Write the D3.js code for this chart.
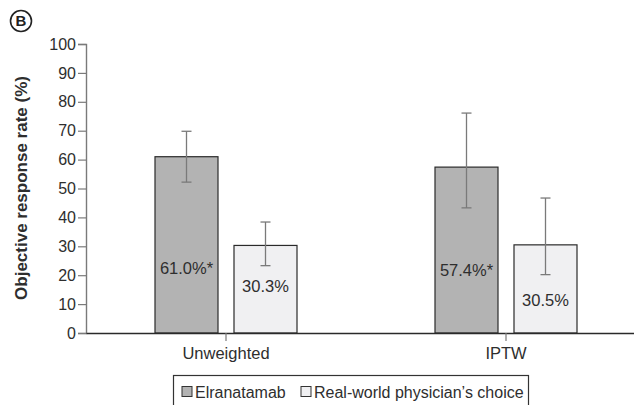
<!DOCTYPE html>
<html>
<head>
<meta charset="utf-8">
<script src="https://cdn.jsdelivr.net/npm/d3@7"></script>
<style>
  html, body { margin: 0; padding: 0; background: #fff; }
  svg { display: block; font-family: "Liberation Sans", Arial, Helvetica, sans-serif; }
</style>
</head>
<body>
<svg id="chart" width="634" height="405"></svg>
<script>
// Objective response rate by analysis and treatment group
const groups = ["Unweighted", "IPTW"];
const series = ["Elranatamab", "Real-world physician\u2019s choice"];
const elranatamab = [61.0, 57.4];
const elranatamabLow = [52.2, 43.3];
const elranatamabHigh = [69.8, 76.1];
const physician = [30.3, 30.5];
const physicianLow = [23.3, 20.2];
const physicianHigh = [38.4, 46.7];
const valueLabels = [["61.0%*", "30.3%"], ["57.4%*", "30.5%"]];
const yTicks = [0, 10, 20, 30, 40, 50, 60, 70, 80, 90, 100];

const fills = ["#b3b3b3", "#f0f0f2"];
const ink = "#2e2e2e";
const grey = "#7a7a7a";

const svg = d3.select("#chart");

const y = d3.scaleLinear().domain([0, 100]).range([333, 44]);
const x = d3.scaleBand().domain(groups).range([86, 646]).padding(0);
const xs = d3.scaleBand().domain(series).range([0, 142]).paddingInner(16 / 79);

// rows: one per bar
const rows = [];
groups.forEach((g, i) => {
  rows.push({ g, s: series[0], si: 0, v: elranatamab[i], lo: elranatamabLow[i], hi: elranatamabHigh[i], label: valueLabels[i][0] });
  rows.push({ g, s: series[1], si: 1, v: physician[i], lo: physicianLow[i], hi: physicianHigh[i], label: valueLabels[i][1] });
});
const barX = d => x(d.g) + x.bandwidth() / 2 - 71 + xs(d.s);

// bars
svg.append("g").selectAll("rect").data(rows).join("rect")
  .attr("x", d => barX(d))
  .attr("y", d => y(d.v))
  .attr("width", xs.bandwidth())
  .attr("height", d => y(0) - y(d.v))
  .attr("fill", d => fills[d.si])
  .attr("stroke", "#2a2a2a")
  .attr("stroke-width", 1.2);

// error bars
const eb = svg.append("g").attr("stroke", grey).attr("stroke-width", 1.3).attr("fill", "none");
rows.forEach(d => {
  const cx = barX(d) + xs.bandwidth() / 2;
  eb.append("line").attr("x1", cx).attr("x2", cx).attr("y1", y(d.hi)).attr("y2", y(d.lo));
  eb.append("line").attr("x1", cx - 5).attr("x2", cx + 5).attr("y1", y(d.hi)).attr("y2", y(d.hi));
  eb.append("line").attr("x1", cx - 5).attr("x2", cx + 5).attr("y1", y(d.lo)).attr("y2", y(d.lo));
});

// value labels inside the bars (vertical drop below each bar's lower whisker)
const labelDrop = [86, 21, 62, 26];
svg.append("g").selectAll("text").data(rows).join("text")
  .attr("x", d => barX(d) + xs.bandwidth() / 2)
  .attr("y", (d, i) => y(d.lo) + labelDrop[i])
  .attr("dy", "0.35em")
  .attr("text-anchor", "middle")
  .attr("font-size", 16.5)
  .attr("fill", ink)
  .text(d => d.label);

// y axis
const yAxis = svg.append("g").attr("transform", "translate(86,0)")
  .call(d3.axisLeft(y).tickValues(yTicks).tickSize(8).tickPadding(2));
yAxis.select(".domain").attr("stroke", grey).attr("stroke-width", 1.4);
yAxis.selectAll(".tick line").attr("stroke", grey).attr("stroke-width", 1.2);
yAxis.selectAll(".tick text").attr("font-size", 16).attr("fill", ink)
  .attr("font-family", "Liberation Sans, Arial, sans-serif");

// x axis
const xAxis = svg.append("g").attr("transform", "translate(0,333)")
  .call(d3.axisBottom(x).tickSize(8).tickPadding(6).tickSizeOuter(0));
xAxis.select(".domain").attr("stroke", "#2a2a2a").attr("stroke-width", 1.4);
xAxis.selectAll(".tick line").attr("stroke", grey).attr("stroke-width", 1.2);
xAxis.selectAll(".tick text").attr("font-size", 16.5).attr("fill", ink)
  .attr("font-family", "Liberation Sans, Arial, sans-serif");

// y axis title
svg.append("text")
  .attr("transform", "translate(27,188) rotate(-90)")
  .attr("text-anchor", "middle")
  .attr("font-size", 17)
  .attr("font-weight", "bold")
  .attr("fill", ink)
  .text("Objective response rate (%)");

// panel letter
svg.append("circle").attr("cx", 21).attr("cy", 21).attr("r", 10.5)
  .attr("fill", "none").attr("stroke", "#222").attr("stroke-width", 1.6);
svg.append("text").attr("x", 21).attr("y", 21).attr("dy", "0.36em")
  .attr("text-anchor", "middle").attr("font-size", 15).attr("font-weight", "bold")
  .attr("fill", "#222").text("B");

// legend
const lg = svg.append("g");
lg.append("rect").attr("x", 173.5).attr("y", 375.5).attr("width", 355).attr("height", 40)
  .attr("fill", "#fff").attr("stroke", "#333").attr("stroke-width", 1.2);
const legendX = [182, 301];
series.forEach((s, i) => {
  lg.append("rect").attr("x", legendX[i]).attr("y", 386.5).attr("width", 10).attr("height", 10)
    .attr("fill", fills[i]).attr("stroke", "#333").attr("stroke-width", 1);
  lg.append("text").attr("x", legendX[i] + 13).attr("y", 392).attr("dy", "0.35em")
    .attr("font-size", 16).attr("fill", ink).text(s);
});
</script>
</body>
</html>
